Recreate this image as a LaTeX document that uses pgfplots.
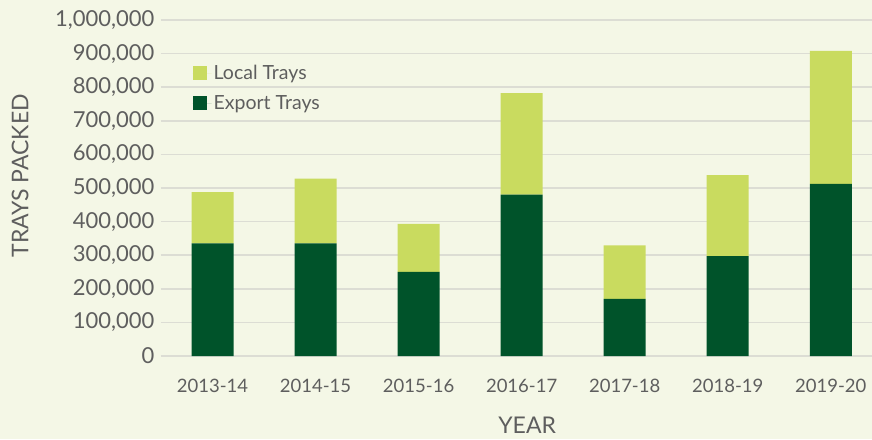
\documentclass[border=0pt]{standalone}
\usepackage{pgfplots}
\pgfplotsset{compat=1.18}
\usepackage{fontspec}
\setmainfont{Lato}
\definecolor{bg}{HTML}{F4F7E6}
\definecolor{localc}{HTML}{C9DB5F}
\definecolor{exportc}{HTML}{00532A}
\definecolor{gridc}{HTML}{DCDDD4}
\definecolor{txt}{HTML}{5E5E5E}
\begin{document}
\begin{tikzpicture}
\useasboundingbox (0pt,0pt) rectangle (872pt,439pt);
\fill[bg] (0pt,0pt) rectangle (872pt,439pt);
\begin{axis}[
  at={(161pt,83pt)}, anchor=south west,
  scale only axis, width=711pt, height=336pt,
  ybar stacked, bar width=42pt,
  xmin=-0.5, xmax=6.4, ymin=0, ymax=1000000,
  xtick={0,1,2,3,4,5,6},
  xticklabels={2013-14,2014-15,2015-16,2016-17,2017-18,2018-19,2019-20},
  ytick={0,100000,200000,300000,400000,500000,600000,700000,800000,900000,1000000},
  scaled y ticks=false,
  yticklabel={\pgfmathprintnumber[fixed,precision=0,1000 sep={,},assume math mode=true]{\tick}},
  axis line style={draw=none}, major tick style={draw=none},
  ymajorgrids, grid style={gridc, line width=1.6pt},
  yticklabel style={font=\fontsize{22}{24}\selectfont, text=txt, xshift=-3pt},
  xticklabel style={font=\fontsize{18.5}{21}\selectfont, text=txt, yshift=-20pt},
  ylabel={TRAYS PACKED}, xlabel={YEAR},
  every axis y label/.style={at={(axis description cs:-0.198,0.536)}, rotate=90, anchor=center, font=\fontsize{23}{26}\selectfont, text=txt},
  every axis x label/.style={at={(axis description cs:0.515,-0.205)}, anchor=center, font=\fontsize{23}{26}\selectfont, text=txt},
  reverse legend, legend cell align=left,
  legend style={at={(0.040,0.877)}, anchor=north west, draw=none, fill=none,
    font=\fontsize{19.5}{22}\selectfont, text=txt, row sep=10pt},
  legend image code/.code={\fill[#1] (0pt,-7pt) rectangle (14pt,7pt); \path (0pt,0pt) -- (19pt,0pt);},
]
\addplot[fill=exportc, draw=none] coordinates {(0,335000) (1,335000) (2,250000) (3,480000) (4,170000) (5,297000) (6,512000)};
\addplot[fill=localc, draw=none] coordinates {(0,153000) (1,193000) (2,143000) (3,302000) (4,159000) (5,241000) (6,396000)};
\legend{Export Trays, Local Trays}
\end{axis}
\end{tikzpicture}
\end{document}
